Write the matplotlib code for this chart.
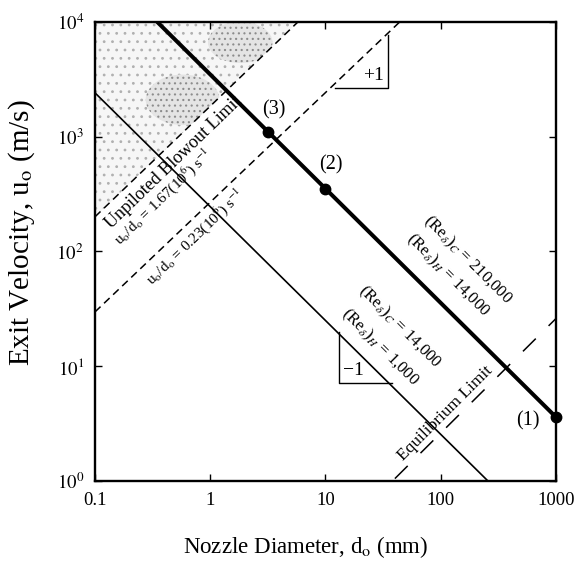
import matplotlib
matplotlib.use("Agg")
import matplotlib.pyplot as plt
from matplotlib.patches import Ellipse
import numpy as np

plt.rcParams['font.family'] = ['Liberation Serif', 'DejaVu Serif']
plt.rcParams['mathtext.fontset'] = 'stix'
plt.rcParams['lines.scale_dashes'] = False
plt.rcParams['hatch.linewidth'] = 0.8

# axes, ticks
x_ticks = [0.1, 1, 10, 100, 1000]
x_tick_labels = ["0.1", "1", "10", "100", "1000"]
y_ticks = [1, 10, 100, 1000, 10000]
y_tick_labels = [r"$10^{0}$", r"$10^{1}$", r"$10^{2}$", r"$10^{3}$", r"$10^{4}$"]

# lines: end points, d in mm, u in m/s
thick_d = [0.345, 1000]
thick_u = [10000, 3.6]
thin_d = [0.1, 257]
thin_u = [2400, 1]
blowout_hi_d = [0.1, 5.8]
blowout_hi_u = [200, 10000]
blowout_lo_d = [0.1, 44.3]
blowout_lo_u = [29.7, 10000]
equil_d = [40, 1000]
equil_u = [1.05, 26]

# operating points on the thick line
point_d = [1000, 10, 3.17]
point_u = [3.6, 350, 1100]
point_labels = ["(1)", "(2)", "(3)"]
point_offsets = [(-20, -3), (4, 17), (4, 16)]

# slope triangles
tri_plus_d = [12.1, 34.8, 34.8]
tri_plus_u = [2640, 2640, 7670]
tri_minus_d = [13.1, 13.1, 37.8]
tri_minus_u = [19.9, 7.1, 7.1]


def log_line(ax, d, u, **kw):
    ax.plot(d, u, **kw)


fig = plt.figure(figsize=(5.8, 5.63), dpi=100)
ax = fig.add_axes([0.1638, 0.1456, 0.7948, 0.8159])
ax.set_xscale("log")
ax.set_yscale("log")
ax.set_xlim(0.1, 1000)
ax.set_ylim(1, 10000)

# shaded blowout region (stippled, with darker halftone blotches)
shade_d = [0.1, 0.1, blowout_hi_d[1], blowout_hi_d[0]]
shade_u = [blowout_hi_u[0], 10000, 10000, blowout_hi_u[0]]
region = ax.fill(shade_d, shade_u, facecolor="#f6f6f6", edgecolor="#b0b0b0",
                 hatch="..", linewidth=0, zorder=1)[0]
for cx, cy, w, h in [(0.19, 0.83, 0.16, 0.11), (0.315, 0.955, 0.14, 0.09)]:
    blob = Ellipse((cx, cy), w, h, transform=ax.transAxes, facecolor="#e4e4e4",
                   edgecolor="#8c8c8c", hatch="...", linewidth=0, zorder=1.5)
    ax.add_patch(blob)
    blob.set_clip_path(region)

log_line(ax, thick_d, thick_u, color="black", lw=2.9, zorder=4)
log_line(ax, thin_d, thin_u, color="black", lw=1.2, zorder=4)
log_line(ax, blowout_hi_d, blowout_hi_u, color="black", lw=1.1,
         dashes=(5.5, 3.5), zorder=3)
log_line(ax, blowout_lo_d, blowout_lo_u, color="black", lw=1.1,
         dashes=(5.5, 3.5), zorder=3)
log_line(ax, equil_d, equil_u, color="black", lw=1.1,
         dashes=(13, 13), zorder=3)

ax.plot(tri_plus_d, tri_plus_u, color="black", lw=1.0)
ax.plot(tri_minus_d, tri_minus_u, color="black", lw=1.0)
ax.text(32, 3400, "+1", ha="right", va="center", fontsize=14)
ax.text(14.2, 9.2, "\u22121", ha="left", va="center", fontsize=14)

ax.plot(point_d, point_u, "o", color="black", markersize=7.5,
        clip_on=False, zorder=5)
for d, u, lab, off in zip(point_d, point_u, point_labels, point_offsets):
    ax.annotate(lab, (d, u), xytext=off, textcoords="offset points",
                ha="center", va="center", fontsize=14.5)

txt = dict(ha="center", va="center", rotation_mode="anchor")
ax.text(0.485, 589, "Unpiloted Blowout Limit", rotation=44, fontsize=13, **txt)
ax.text(0.389, 298, r"u$_\mathrm{o}$/d$_\mathrm{o}$ = 1.67(10$^6$) s$^{-1}$",
        rotation=44, fontsize=11, **txt)
ax.text(0.738, 133, r"u$_\mathrm{o}$/d$_\mathrm{o}$ = 0.23(10$^6$) s$^{-1}$",
        rotation=44, fontsize=11, **txt)
ax.text(172, 84, r"(Re$_\delta$)$_C$ = 210,000", rotation=-45, fontsize=12, **txt)
ax.text(116, 62, r"(Re$_\delta$)$_H$ = 14,000", rotation=-45, fontsize=12, **txt)
ax.text(44, 22, r"(Re$_\delta$)$_C$ = 14,000", rotation=-45, fontsize=12, **txt)
ax.text(29.7, 14.7, r"(Re$_\delta$)$_H$ = 1,000", rotation=-45, fontsize=12, **txt)
ax.text(109, 3.9, "Equilibrium Limit", rotation=45, fontsize=12.5, **txt)

ax.set_xticks(x_ticks)
ax.set_xticklabels(x_tick_labels)
ax.set_yticks(y_ticks)
ax.set_yticklabels(y_tick_labels)
ax.minorticks_off()
ax.tick_params(direction="in", length=5, width=1, top=True, right=True,
               labelsize=13.5, pad=8)
for s in ax.spines.values():
    s.set_linewidth(1.7)

ax.set_xlabel(r"Nozzle Diameter, d$_\mathrm{o}$ (mm)", fontsize=16.5)
ax.xaxis.set_label_coords(0.458, -0.115)
ax.set_ylabel(r"Exit Velocity, u$_\mathrm{o}$ (m/s)", fontsize=21)
ax.yaxis.set_label_coords(-0.126, 0.54)

fig.savefig("out.png", dpi=100)
